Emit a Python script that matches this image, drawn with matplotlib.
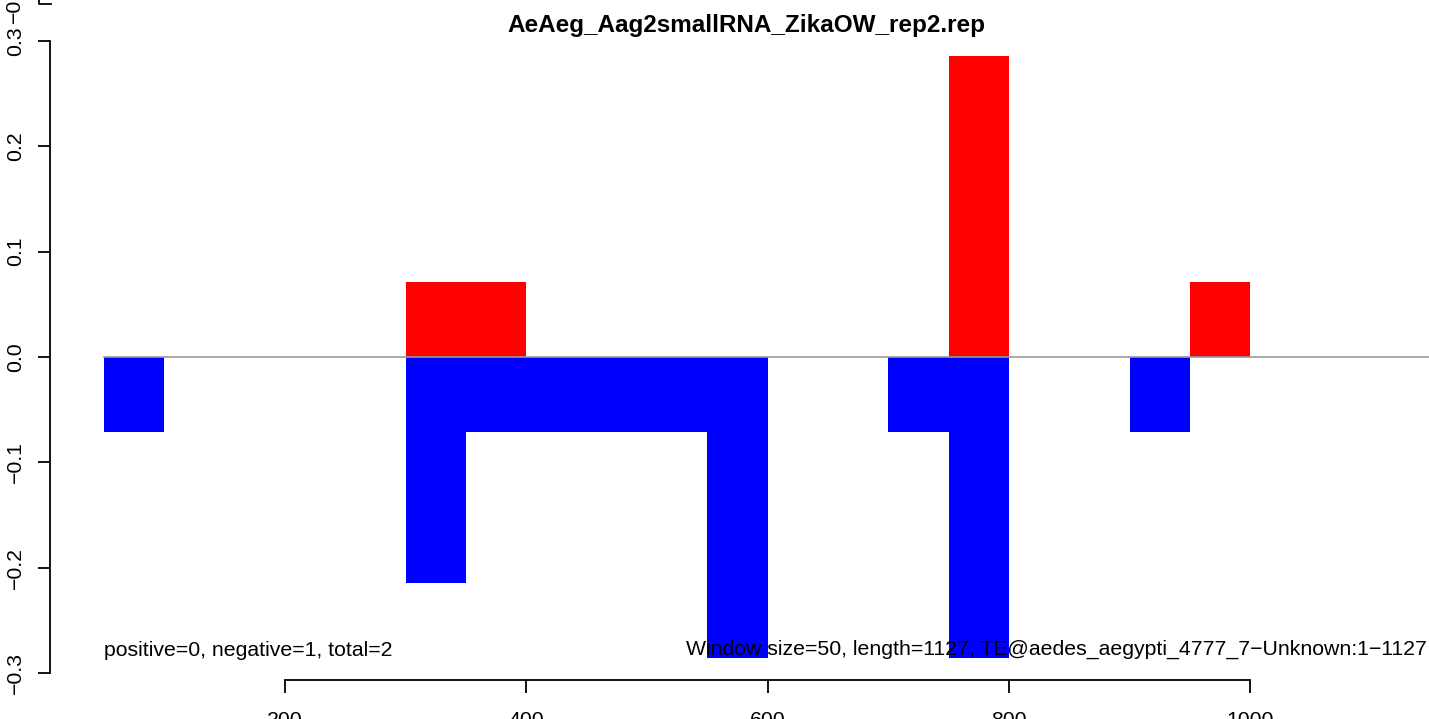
import matplotlib
matplotlib.use("Agg")
import matplotlib.pyplot as plt
from matplotlib.patches import Rectangle

plt.rcParams['font.family'] = ['Liberation Sans', 'DejaVu Sans']

# window starts (size 50)
win = 50
pos_starts = [300, 350, 750, 950]
pos_vals = [1/14, 1/14, 4/14, 1/14]
neg_starts = [50, 300, 350, 400, 450, 500, 550, 700, 750, 900]
neg_vals = [-1/14, -3/14, -1/14, -1/14, -1/14, -1/14, -4/14, -1/14, -4/14, -1/14]

title = "AeAeg_Aag2smallRNA_ZikaOW_rep2.rep"
left_note = "positive=0, negative=1, total=2"
right_note = "Window size=50, length=1127, TE@aedes_aegypti_4777_7\u2212Unknown:1\u22121127"
xticks = [200, 400, 600, 800, 1000]
yticks = [-0.3, -0.2, -0.1, 0.0, 0.1, 0.2, 0.3]

W, H = 1429, 719
fig = plt.figure(figsize=(W/100, H/100), dpi=100)
ax = fig.add_axes([50/W, 1 - 680/H, (1442-50)/W, (680-34)/H])
ax.set_xlim(5.2, 1159)
ax.set_ylim(-0.3067, 0.3067)

for s, v in zip(neg_starts, neg_vals):
    ax.add_patch(Rectangle((s, 0), win, v, color='blue', lw=0))
for s, v in zip(pos_starts, pos_vals):
    ax.add_patch(Rectangle((s, 0), win, v, color='red', lw=0))
ax.plot([50, 1200], [0, 0], color='#999999', lw=1.2, clip_on=False)

for sp in ['top', 'right']:
    ax.spines[sp].set_visible(False)
ax.spines['left'].set_bounds(-0.3, 0.3)
ax.spines['bottom'].set_bounds(200, 1000)
for sp in ['left', 'bottom']:
    ax.spines[sp].set_linewidth(1.3)
ax.set_xticks(xticks)
ax.set_xticklabels([str(t) for t in xticks])
ax.set_yticks(yticks)
ax.set_yticklabels(["\u22120.3", "\u22120.2", "\u22120.1", "0.0", "0.1", "0.2", "0.3"],
                   rotation=90, va='center')
ax.tick_params(length=9, width=1.3, labelsize=15.3)
ax.tick_params(axis='x', pad=13)
ax.tick_params(axis='y', pad=9)

ax.set_title(title, fontsize=17.5, fontweight='bold', pad=0, y=1 + 2/(680-34))
ax.text(50, -0.2785, left_note, fontsize=15.3, va='center', ha='left')
fig.text(686/W, 1 - 649/H, right_note, fontsize=15.3, va='center', ha='left')

# leftover axis piece of the panel above (cropped at top)
fig.text(14/W, 1 - 23/H, "\u22120.3", rotation=90, fontsize=15.3, ha='center', va='bottom')
fig.add_artist(plt.Line2D([39/W, 39/W, 51/W], [1, 1 - 4/H, 1 - 4/H], color='black', lw=1.3))

fig.savefig("out.png", dpi=100)
